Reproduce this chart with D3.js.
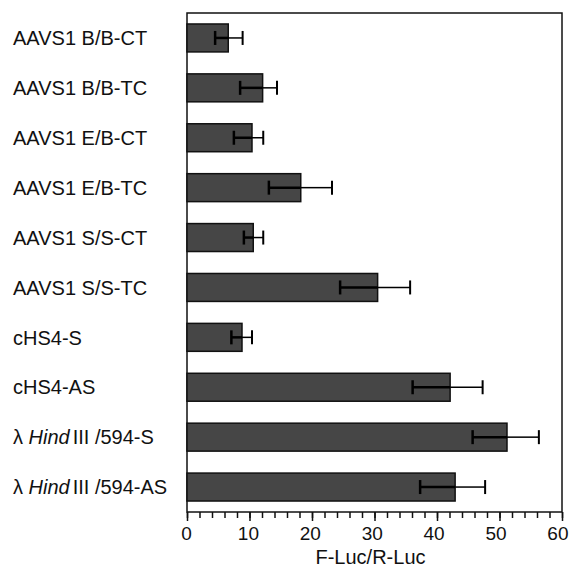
<!DOCTYPE html>
<html>
<head>
<meta charset="utf-8">
<script src="https://cdn.jsdelivr.net/npm/d3@7"></script>
<style>
  body { margin: 0; background: #fff; }
  svg text { font-family: "Liberation Sans", Arial, sans-serif; fill: #111; }
</style>
</head>
<body>
<div id="chart"></div>
<script>
// data
let labels = [
  'AAVS1 B/B-CT', 'AAVS1 B/B-TC', 'AAVS1 E/B-CT', 'AAVS1 E/B-TC',
  'AAVS1 S/S-CT', 'AAVS1 S/S-TC', 'cHS4-S', 'cHS4-AS',
  'lambda-S', 'lambda-AS'
]
let means = [6.6, 12.1, 10.4, 18.2, 10.6, 30.5, 8.8, 42.1, 51.2, 42.9]
let errLow = [4.5, 8.5, 7.5, 13.1, 9.1, 24.5, 7.1, 36.1, 45.7, 37.3]
let errHigh = [8.9, 14.4, 12.2, 23.2, 12.2, 35.7, 10.4, 47.3, 56.3, 47.7]
let xTicks = [0, 10, 20, 30, 40, 50, 60]

let width = 571
let height = 567
let plotL = 187, plotR = 562, plotT = 13, plotB = 512

let svg = d3.select('#chart')
  .append('svg')
    .attr('width', width)
    .attr('height', height)

let x = d3.scaleLinear().domain([0, 60]).range([plotL, plotR])
let y = d3.scaleBand().domain(labels).range([plotT, plotB]).paddingInner(0.44).paddingOuter(0.22)

let rows = labels.map((l, i) => ({label: l, v: means[i], lo: errLow[i], hi: errHigh[i]}))

// frame
svg.append('rect')
  .attr('x', plotL).attr('y', plotT)
  .attr('width', plotR - plotL).attr('height', plotB - plotT)
  .attr('fill', 'none').attr('stroke', '#111').attr('stroke-width', 1.5)

// bars
svg.selectAll('rect.bar')
  .data(rows)
  .enter()
  .append('rect')
    .attr('class', 'bar')
    .attr('x', x(0))
    .attr('y', d => y(d.label))
    .attr('width', d => x(d.v) - x(0))
    .attr('height', y.bandwidth())
    .attr('fill', '#464646')
    .attr('stroke', '#111')
    .attr('stroke-width', 1.5)

// error bars
let cap = 7
let err = svg.selectAll('g.err')
  .data(rows)
  .enter()
  .append('g')
    .attr('class', 'err')
    .attr('transform', d => `translate(0,${y(d.label) + y.bandwidth() / 2})`)
err.append('line')
  .attr('x1', d => x(d.lo)).attr('x2', d => x(d.v))
  .attr('stroke', '#000').attr('stroke-width', 2.5)
err.append('line')
  .attr('x1', d => x(d.v)).attr('x2', d => x(d.hi))
  .attr('stroke', '#000').attr('stroke-width', 1.5)
err.append('line')
  .attr('x1', d => x(d.lo)).attr('x2', d => x(d.lo))
  .attr('y1', -cap).attr('y2', cap)
  .attr('stroke', '#000').attr('stroke-width', 2.5)
err.append('line')
  .attr('x1', d => x(d.hi)).attr('x2', d => x(d.hi))
  .attr('y1', -cap).attr('y2', cap)
  .attr('stroke', '#000').attr('stroke-width', 2)

// x axis, minor ticks every 2
let axis = svg.append('g')
  .attr('transform', `translate(0,${plotB})`)
axis.call(d3.axisBottom(x).tickValues(d3.range(0, 61, 2)).tickSize(6).tickFormat(''))
axis.call(g => g.select('.domain').remove())
axis.selectAll('line').attr('stroke', '#111').attr('stroke-width', 1.5)

let major = svg.append('g')
  .attr('transform', `translate(0,${plotB})`)
  .call(d3.axisBottom(x).tickValues(xTicks).tickSize(9).tickPadding(6))
major.select('.domain').remove()
major.selectAll('line').attr('stroke', '#111').attr('stroke-width', 1.5)
major.selectAll('text')
  .attr('dx', (d, i) => -1 - i * 0.6)
  .style('font-size', '19px')
  .style('font-family', '"Liberation Sans", Arial, sans-serif')
  .attr('fill', '#111')

svg.append('text')
  .attr('x', (plotL + plotR) / 2 - 4)
  .attr('y', 564)
  .attr('text-anchor', 'middle')
  .style('font-size', '20px')
  .text('F-Luc/R-Luc')

// y labels
let ylab = svg.selectAll('text.ylab')
  .data(rows)
  .enter()
  .append('text')
    .attr('class', 'ylab')
    .attr('x', 13)
    .attr('y', d => y(d.label) + y.bandwidth() / 2)
    .attr('dy', '0.36em')
    .style('font-size', '20px')

ylab.each(function(d) {
  let t = d3.select(this)
  if (d.label.startsWith('lambda')) {
    let suffix = d.label.split('-')[1]
    t.append('tspan').text('\u03bb ')
    t.append('tspan').style('font-style', 'italic').text('Hind')
    t.append('tspan').attr('dx', 3).text('III /594-' + suffix)
  } else {
    t.text(d.label)
  }
})
</script>
</body>
</html>
